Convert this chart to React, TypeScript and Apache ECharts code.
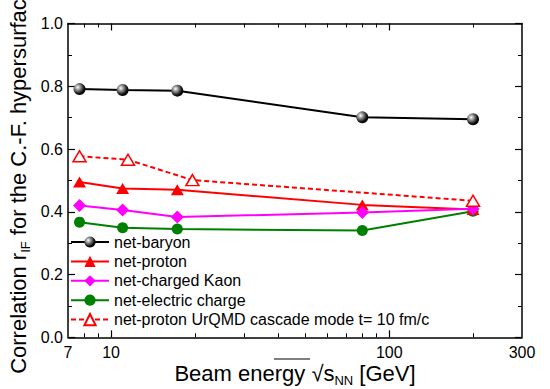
import React, { useEffect, useRef } from "react";
import * as echarts from "echarts";

const energies = [7.7, 11.0, 17.3, 80, 200];
const urqmdEnergies = [7.7, 11.5, 19.6, 200];
const netBaryon = [0.791, 0.788, 0.786, 0.701, 0.695];
const netProton = [0.495, 0.474, 0.47, 0.422, 0.407];
const netKaon = [0.42, 0.406, 0.383, 0.398, 0.41];
const netCharge = [0.367, 0.349, 0.345, 0.34, 0.402];
const urqmdProton = [0.577, 0.566, 0.501, 0.435];

const seriesNames = [
  "net-baryon",
  "net-proton",
  "net-charged Kaon",
  "net-electric charge",
  "net-proton UrQMD cascade mode t= 10 fm/c",
];

const xLabelValues = [7, 10, 100, 300];
const xMajorTicks = [10, 100];
const xMinorTicks = [8, 9, 20, 30, 40, 50, 60, 70, 80, 90, 200];

const FONT = "Liberation Sans, Arial, sans-serif";

function pairs(xs: number[], ys: number[]) {
  return xs.map((x, i) => [x, ys[i]]);
}

export default function App() {
  const ref = useRef<HTMLDivElement>(null);
  useEffect(() => {
    if (!ref.current) return;
    const chart = echarts.init(ref.current, null, { renderer: "svg" });
    const axisLine = { show: true, lineStyle: { color: "#000", width: 1.5 } };
    const xBase = { type: "log", min: 7, max: 300, logBase: 10, gridIndex: 0, splitLine: { show: false } };
    const sphere = {
      type: "radial",
      x: 0.35,
      y: 0.35,
      r: 0.7,
      colorStops: [
        { offset: 0, color: "#ffffff" },
        { offset: 0.3, color: "#9a9a9a" },
        { offset: 0.75, color: "#111" },
        { offset: 1, color: "#000" },
      ],
    };
    const option: any = {
      animation: false,
      textStyle: { fontFamily: FONT },
      grid: { left: 68, right: 28, top: 23.5, bottom: 51.7, containLabel: false, outerBoundsMode: "none" },
      legend: {
        orient: "vertical",
        left: 70,
        top: 234,
        padding: 0,
        itemWidth: 38,
        itemHeight: 14,
        itemGap: 3.4,
        textStyle: { fontSize: 16, color: "#000", fontFamily: FONT },
        data: seriesNames,
      },
      xAxis: [
        {
          ...xBase,
          position: "bottom",
          axisLine,
          axisTick: { show: true, inside: true, length: 7, lineStyle: { color: "#000", width: 1.2 }, customValues: xMajorTicks },
          axisLabel: {
            show: true,
            customValues: xLabelValues,
            fontSize: 16,
            color: "#000",
            margin: 7,
            fontFamily: FONT,
            formatter: (v: number) => String(Math.round(v)),
          },
          name: "{a|Beam energy √s}{sub|NN}{a| [GeV]}",
          nameLocation: "middle",
          nameGap: 22,
          nameMoveOverlap: false,
          nameTextStyle: {
            color: "#000",
            fontFamily: FONT,
            rich: {
              a: { fontSize: 22, lineHeight: 28, color: "#000", fontFamily: FONT },
              sub: { fontSize: 13, lineHeight: 13, verticalAlign: "bottom", color: "#000", fontFamily: FONT },
            },
          },
        },
        {
          ...xBase,
          position: "bottom",
          axisLine: { show: false },
          axisTick: { show: true, inside: true, length: 4, lineStyle: { color: "#000", width: 1 }, customValues: xMinorTicks },
          axisLabel: { show: false },
        },
        {
          ...xBase,
          position: "top",
          axisLine,
          axisTick: { show: true, inside: true, length: 7, lineStyle: { color: "#000", width: 1.2 }, customValues: xMajorTicks },
          axisLabel: { show: false },
        },
        {
          ...xBase,
          position: "top",
          axisLine: { show: false },
          axisTick: { show: true, inside: true, length: 4, lineStyle: { color: "#000", width: 1 }, customValues: xMinorTicks },
          axisLabel: { show: false },
        },
      ],
      yAxis: [
        {
          type: "value",
          min: 0,
          max: 1,
          interval: 0.2,
          position: "left",
          splitLine: { show: false },
          axisLine,
          axisTick: { show: true, inside: true, length: 7, lineStyle: { color: "#000", width: 1.2 } },
          minorTick: { show: true, splitNumber: 2, length: 4, lineStyle: { color: "#000", width: 1 } },
          axisLabel: {
            fontSize: 16,
            color: "#000",
            margin: 5,
            fontFamily: FONT,
            formatter: (v: number) => v.toFixed(1),
          },
          name: "{a|Correlation r}{sub|IF}{a| for the C.-F. hypersurface}",
          nameLocation: "middle",
          nameGap: 36,
          nameMoveOverlap: false,
          nameTextStyle: {
            color: "#000",
            fontFamily: FONT,
            rich: {
              a: { fontSize: 22, lineHeight: 28, color: "#000", fontFamily: FONT },
              sub: { fontSize: 13, lineHeight: 13, verticalAlign: "bottom", color: "#000", fontFamily: FONT },
            },
          },
        },
        {
          type: "value",
          min: 0,
          max: 1,
          interval: 0.2,
          position: "right",
          splitLine: { show: false },
          axisLine,
          axisTick: { show: true, inside: true, length: 7, lineStyle: { color: "#000", width: 1.2 } },
          minorTick: { show: true, splitNumber: 2, length: 4, lineStyle: { color: "#000", width: 1 } },
          axisLabel: { show: false },
        },
      ],
      graphic: [
        {
          type: "line",
          shape: { x1: 274, y1: 359, x2: 310, y2: 359 },
          style: { stroke: "#000", lineWidth: 1.2 },
          silent: true,
        },
      ],
      series: [
        {
          name: seriesNames[0],
          type: "line",
          data: pairs(energies, netBaryon),
          symbol: "circle",
          symbolSize: 12,
          itemStyle: { color: sphere },
          lineStyle: { color: "#000", width: 2 },
          z: 2,
        },
        {
          name: seriesNames[1],
          type: "line",
          data: pairs(energies, netProton),
          symbol: "triangle",
          symbolSize: [13, 11],
          itemStyle: { color: "#ff0000" },
          lineStyle: { color: "#ff0000", width: 2 },
          z: 3,
        },
        {
          name: seriesNames[2],
          type: "line",
          data: pairs(energies, netKaon),
          symbol: "diamond",
          symbolSize: 13,
          itemStyle: { color: "#ff00ff" },
          lineStyle: { color: "#ff00ff", width: 2 },
          z: 4,
        },
        {
          name: seriesNames[3],
          type: "line",
          data: pairs(energies, netCharge),
          symbol: "circle",
          symbolSize: 11,
          itemStyle: { color: "#008000" },
          lineStyle: { color: "#008000", width: 2 },
          z: 2,
        },
        {
          name: seriesNames[4],
          type: "line",
          data: pairs(urqmdEnergies, urqmdProton),
          symbol: "triangle",
          symbolSize: [13, 11],
          itemStyle: { color: "#ffffff", borderColor: "#ff0000", borderWidth: 1.5 },
          lineStyle: { color: "#ff0000", width: 2, type: [5, 3] },
          z: 5,
        },
      ],
    };
    chart.setOption(option);
    return () => chart.dispose();
  }, []);
  return (
    <div
      ref={ref}
      style={{ position: "fixed", left: 0, top: 0, width: 550, height: 389, background: "#fff" }}
    />
  );
}
